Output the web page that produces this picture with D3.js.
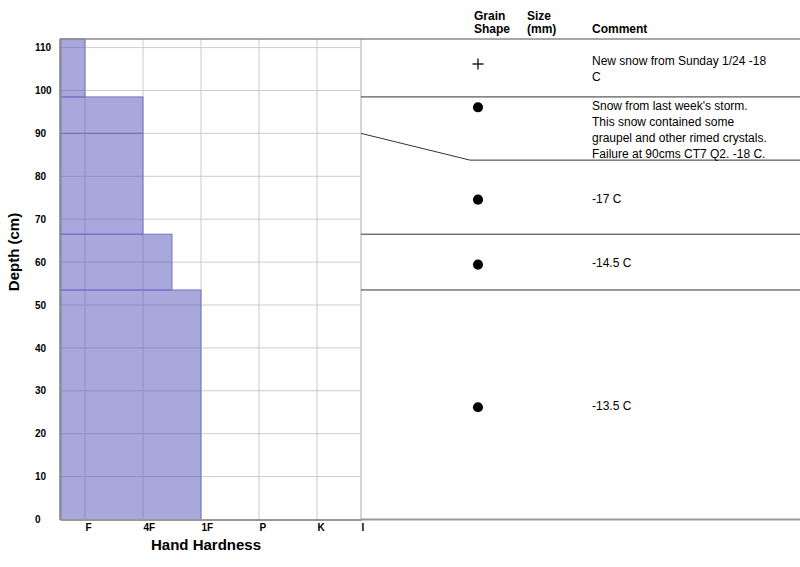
<!DOCTYPE html>
<html>
<head>
<meta charset="utf-8">
<script src="https://cdn.jsdelivr.net/npm/d3@7"></script>
<style>
  body { margin: 0; background: #fff; }
  svg { display: block; font-family: "Liberation Sans", Arial, Helvetica, sans-serif; }
</style>
</head>
<body>
<div id="chart"></div>
<script>
// layers, top to bottom (depth in cm)
const layerTop = [112, 98.5, 90, 66.5, 53.5];
const layerBottom = [98.5, 90, 66.5, 53.5, 0];
// hand hardness index: F=1, 4F=2, 1F=3, P=4, K=5, I=6 (2.5 = 4F-1F)
const layerHardness = [1, 2, 2, 2.5, 3];
const grainShape = ["PP", "RG", "RG", "RG", "RG"];
const comments = [
    ["New snow from Sunday 1/24 -18", "C"],
    ["Snow from last week's storm.", "This snow contained some", "graupel and other rimed crystals.", "Failure at 90cms CT7 Q2. -18 C."],
    ["-17 C"],
    ["-14.5 C"],
    ["-13.5 C"]
];
const hardnessLabels = ["F", "4F", "1F", "P", "K", "I"];
const depthTicks = [0, 10, 20, 30, 40, 50, 60, 70, 80, 90, 100, 110];
const maxDepth = 112;

const w = 800, h = 567;
const plotLeft = 60, plotRight = 361, plotTop = 39, plotBottom = 519.5;
const tableRight = 800, kinkX = 470, symbolX = 478, commentX = 592;
const lineH = 15.8;

const y = d3.scaleLinear().domain([0, maxDepth]).range([plotBottom, plotTop]);
// hardness steps are evenly spaced, ice sits on the right edge
const x = d3.scaleLinear()
    .domain([0, 1, 2, 3, 4, 5, 6])
    .range([plotLeft, 85, 143, 201, 259, 317, plotRight]);

const svg = d3.select("#chart").append("svg")
    .attr("width", w)
    .attr("height", h);

// grid
svg.append("g")
    .selectAll("line")
    .data(depthTicks.filter(d => d > 0))
    .enter().append("line")
    .attr("x1", plotLeft).attr("x2", plotRight)
    .attr("y1", d => y(d)).attr("y2", d => y(d))
    .attr("stroke", "#cccccc");

svg.append("g")
    .selectAll("line")
    .data(d3.range(1, hardnessLabels.length))
    .enter().append("line")
    .attr("x1", d => x(d)).attr("x2", d => x(d))
    .attr("y1", plotTop).attr("y2", plotBottom)
    .attr("stroke", "#cccccc");

svg.append("line")
    .attr("x1", plotRight).attr("x2", plotRight)
    .attr("y1", plotTop).attr("y2", plotBottom)
    .attr("stroke", "#d6d6d6")
    .attr("stroke-width", 2);

// hardness bars
svg.append("g")
    .selectAll("rect")
    .data(layerHardness)
    .enter().append("rect")
    .attr("x", x(0))
    .attr("y", (d, i) => y(layerTop[i]))
    .attr("width", d => x(d) - x(0))
    .attr("height", (d, i) => y(layerBottom[i]) - y(layerTop[i]))
    .attr("fill", "rgba(81,81,185,0.5)")
    .attr("stroke", "#7474c6")
    .attr("stroke-width", 1);

// axes
const yAxis = svg.append("g")
    .attr("transform", `translate(${plotLeft},0)`)
    .call(d3.axisLeft(y).tickValues(depthTicks).tickSize(0).tickSizeOuter(0));
yAxis.select(".domain").attr("stroke", "#888").attr("stroke-width", 2);
yAxis.selectAll("text")
    .attr("x", -25)
    .attr("text-anchor", "start")
    .attr("font-size", "10px")
    .attr("font-weight", "bold")
    .attr("fill", "#000");

const xAxis = svg.append("g")
    .attr("transform", `translate(0,${plotBottom})`)
    .call(d3.axisBottom(x)
        .tickValues(d3.range(1, hardnessLabels.length + 1))
        .tickFormat(d => hardnessLabels[d - 1])
        .tickSize(0).tickSizeOuter(0).tickPadding(4));
xAxis.select(".domain").attr("stroke", "#999").attr("stroke-width", 2);
xAxis.selectAll("text")
    .attr("text-anchor", "start")
    .attr("font-size", "10px")
    .attr("font-weight", "bold")
    .attr("fill", "#000");

svg.append("text")
    .attr("x", 206).attr("y", 550)
    .attr("text-anchor", "middle")
    .attr("font-size", "15px")
    .attr("font-weight", "bold")
    .text("Hand Hardness");

svg.append("text")
    .attr("transform", "translate(19,252) rotate(-90)")
    .attr("text-anchor", "middle")
    .attr("font-size", "15px")
    .attr("font-weight", "bold")
    .text("Depth (cm)");

// top border
svg.append("line")
    .attr("x1", plotLeft).attr("x2", tableRight)
    .attr("y1", plotTop).attr("y2", plotTop)
    .attr("stroke", "#8a8a8a")
    .attr("stroke-width", 1.5);

// table header
const header = svg.append("g")
    .attr("font-size", "12px")
    .attr("font-weight", "bold");
[["Grain", 474, 20], ["Shape", 474, 33], ["Size", 527, 20], ["(mm)", 527, 33], ["Comment", commentX, 33]]
    .forEach(t => header.append("text").attr("x", t[1]).attr("y", t[2]).text(t[0]));

// table rows: a row grows below its layer when the comment needs more room
const rows = [];
let prev = y(layerTop[0]);
layerBottom.forEach((b, i) => {
    const chartY = y(b);
    const rowTop = prev;
    const rowBottom = Math.max(chartY, rowTop + comments[i].length * lineH);
    rows.push({chartY, rowTop, rowBottom, i});
    prev = rowBottom;
});

const line = d3.line();
svg.append("g")
    .selectAll("path")
    .data(rows.slice(0, -1))
    .enter().append("path")
    .attr("d", d => line([[plotRight, d.chartY], [kinkX, d.rowBottom], [tableRight, d.rowBottom]]))
    .attr("fill", "none")
    .attr("stroke", "#333")
    .attr("stroke-width", 1);

svg.append("line")
    .attr("x1", plotRight).attr("x2", tableRight)
    .attr("y1", plotBottom).attr("y2", plotBottom)
    .attr("stroke", "#999")
    .attr("stroke-width", 2);

const plus = {
    draw(context, size) {
        const r = Math.sqrt(size) / 2;
        context.moveTo(-r, 0); context.lineTo(r, 0);
        context.moveTo(0, -r); context.lineTo(0, r);
    }
};
const shapeSymbol = {
    PP: {type: plus, size: 121, fill: "none", stroke: "#222", dy: 4},
    RG: {type: d3.symbolCircle, size: 80, fill: "#000", stroke: "none", dy: 2.5}
};

const firstLineY = d => (d.rowTop + d.rowBottom) / 2 - (comments[d.i].length - 1) / 2 * lineH;

svg.append("g")
    .selectAll("path")
    .data(rows)
    .enter().append("path")
    .attr("transform", d => `translate(${symbolX},${firstLineY(d) + shapeSymbol[grainShape[d.i]].dy})`)
    .attr("d", d => d3.symbol(shapeSymbol[grainShape[d.i]].type, shapeSymbol[grainShape[d.i]].size)())
    .attr("fill", d => shapeSymbol[grainShape[d.i]].fill)
    .attr("stroke", d => shapeSymbol[grainShape[d.i]].stroke)
    .attr("stroke-width", 1.4);

const commentText = svg.append("g")
    .attr("font-size", "12px")
    .selectAll("text")
    .data(rows)
    .enter().append("text");

commentText.selectAll("tspan")
    .data(d => comments[d.i].map((t, j) => ({t, yy: firstLineY(d) + j * lineH})))
    .enter().append("tspan")
    .attr("x", commentX)
    .attr("y", d => d.yy)
    .attr("dy", "0.45em")
    .text(d => d.t);
</script>
</body>
</html>
